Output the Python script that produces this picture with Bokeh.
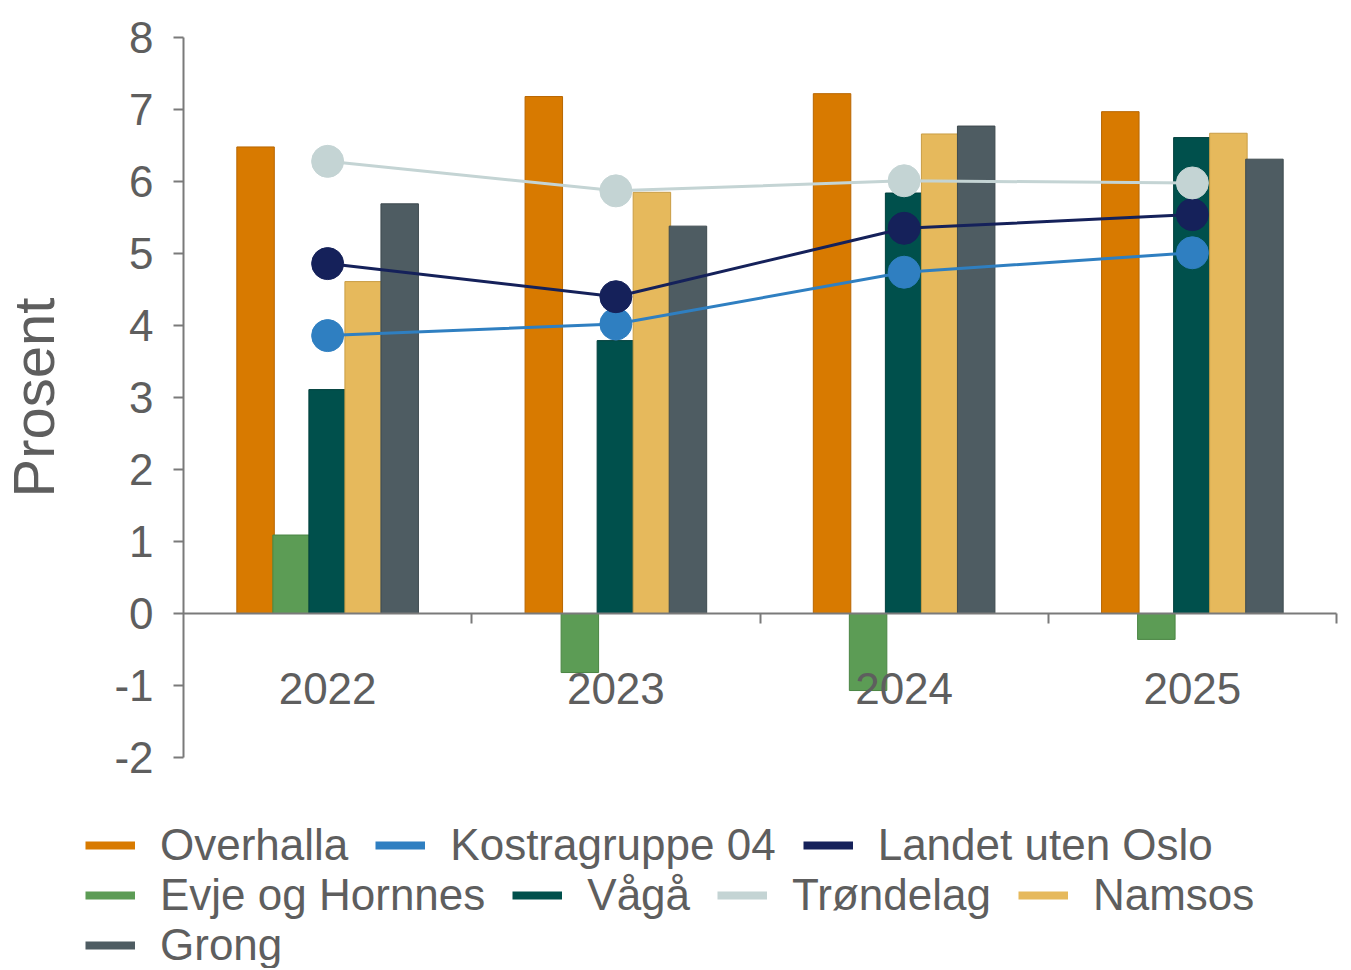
from bokeh.plotting import figure
from bokeh.models import (Range1d, FixedTicker, Legend, LegendItem,
                          ColumnDataSource, LinearAxis)
from bokeh.transform import dodge
from bokeh.embed import file_html
from bokeh.resources import INLINE

years = ["2022", "2023", "2024", "2025"]

overhalla = [6.48, 7.18, 7.22, 6.97]
evje = [1.09, -0.82, -1.07, -0.36]
vaga = [3.11, 3.79, 5.84, 6.61]
namsos = [4.61, 5.85, 6.66, 6.67]
grong = [5.69, 5.38, 6.77, 6.31]
kostra = [3.86, 4.02, 4.74, 5.01]
landet = [4.86, 4.40, 5.35, 5.54]
trondelag = [6.28, 5.87, 6.01, 5.98]

y_ticks = [-2, -1, 0, 1, 2, 3, 4, 5, 6, 7, 8]

names = ["Overhalla", "Kostragruppe 04", "Landet uten Oslo", "Evje og Hornnes",
         "Vågå", "Trøndelag", "Namsos", "Grong"]

FONT = "Liberation Sans"
TXT = "#5e5e5e"
AX = "#7a7a7a"

# category slots: one unit per year, centred at i + 0.5
centers = [i + 0.5 for i in range(len(years))]
bounds_ticks = [i + 1 for i in range(len(years))]

src = ColumnDataSource(dict(cx=centers, overhalla=overhalla, evje=evje, vaga=vaga,
                            namsos=namsos, grong=grong, kostra=kostra,
                            landet=landet, trondelag=trondelag))

W, H = 1350, 968
# frame fills the figure; plot area maps x 0..4 -> px 183..1336, y -2..8 -> px 757..37
xpx = (1336 - 183) / len(years)
ypx = (757 - 37) / 10.0
p = figure(x_range=Range1d(-183 / xpx, len(years) + (W - 1336) / xpx),
           y_range=Range1d(-2 - (H - 757) / ypx, 8 + 37 / ypx),
           width=W, height=H, output_backend="svg", toolbar_location=None,
           min_border=0, min_border_left=0, min_border_right=0,
           min_border_top=0, min_border_bottom=0)
p.outline_line_color = None
p.xgrid.visible = False
p.ygrid.visible = False
p.background_fill_color = "white"

# bars
bar_specs = [
    ("overhalla", -0.25, "#d87a00", "#b86600"),
    ("evje", -0.125, "#5c9c55", "#4a8544"),
    ("vaga", 0.0, "#00504c", "#003f3c"),
    ("namsos", 0.125, "#e6b95c", "#c99d45"),
    ("grong", 0.25, "#4e5c62", "#3e4a4f"),
]
for col, off, fc, lc in bar_specs:
    p.vbar(x=dodge("cx", off), top=col, bottom=0, width=0.13,
           source=src, fill_color=fc, line_color=lc, line_width=1)

# lines with markers
line_specs = [
    ("kostra", "#2f7fc1"),
    ("landet", "#15215a"),
    ("trondelag", "#c4d4d4"),
]
for col, c in line_specs:
    p.line(x="cx", y=col, source=src, line_color=c, line_width=3)
    p.scatter(x="cx", y=col, source=src, marker="circle", size=32,
              fill_color=c, line_color=c)

# y axis at x = 0
ya = p.yaxis[0]
ya.fixed_location = 0
ya.bounds = (-2, 8)
ya.ticker = FixedTicker(ticks=y_ticks)
ya.major_label_overrides = {t: str(t) for t in y_ticks}
ya.axis_label = "Prosent"
ya.axis_label_text_font = FONT
ya.axis_label_text_font_size = "58px"
ya.axis_label_text_font_style = "normal"
ya.axis_label_text_color = TXT
ya.axis_label_standoff = 45
ya.major_label_text_font = FONT
ya.major_label_text_font_size = "44px"
ya.major_label_text_color = TXT
ya.major_label_standoff = 20
ya.major_tick_out = 10
ya.major_tick_in = 0
ya.minor_tick_line_color = None
ya.axis_line_color = AX
ya.major_tick_line_color = AX
ya.axis_line_width = 2
ya.major_tick_line_width = 2

# x axis at y = 0: category labels at slot centres
xa = p.xaxis[0]
xa.fixed_location = 0
xa.bounds = (0, len(years))
xa.ticker = FixedTicker(ticks=centers)
xa.major_label_overrides = {c: y for c, y in zip(centers, years)}
xa.axis_line_color = AX
xa.axis_line_width = 2
xa.major_tick_line_color = None
xa.minor_tick_line_color = None
xa.major_label_text_font = FONT
xa.major_label_text_font_size = "44px"
xa.major_label_text_color = TXT
xa.major_label_standoff = 53

# boundary ticks between categories
bx = LinearAxis(fixed_location=0, bounds=(0, len(years)),
                ticker=FixedTicker(ticks=bounds_ticks),
                major_label_overrides={t: "" for t in bounds_ticks},
                major_label_text_font_size="1px",
                axis_line_color=None, major_tick_line_color=AX,
                major_tick_line_width=2, major_tick_out=10, major_tick_in=0,
                minor_tick_line_color=None)
p.add_layout(bx, "below")

# legend proxies (single off-screen point, nothing visible)
colors = ["#d87a00", "#2f7fc1", "#15215a", "#5c9c55", "#00504c", "#c4d4d4",
          "#e6b95c", "#4e5c62"]
proxies = {}
for n, c in zip(names, colors):
    proxies[n] = p.line(x=[-50], y=[-50], line_color=c, line_width=8)

rows = [names[0:3], names[3:7], names[7:8]]
for i, row in enumerate(rows):
    lg = Legend(items=[LegendItem(label=n, renderers=[proxies[n]]) for n in row],
                orientation="horizontal", location=(85, (H - 870) - 50 * i),
                glyph_width=50, glyph_height=50, label_height=50,
                label_standoff=25, spacing=27, padding=0, margin=0,
                border_line_color=None, background_fill_alpha=0,
                label_text_font=FONT, label_text_font_size="44px",
                label_text_color=TXT)
    p.add_layout(lg, "center")

open("out.html", "w").write(file_html(p, INLINE))
